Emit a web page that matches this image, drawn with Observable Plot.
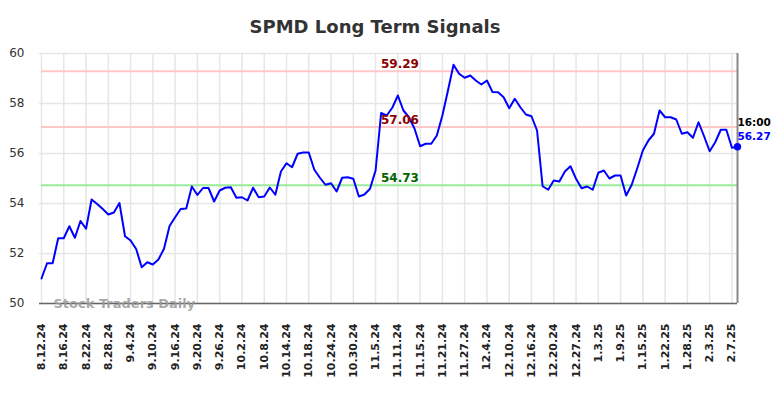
<!DOCTYPE html>
<html><head><meta charset="utf-8">
<script src="https://cdn.jsdelivr.net/npm/d3@7"></script>
<script src="https://cdn.jsdelivr.net/npm/@observablehq/plot@0.6"></script>
<style>html,body{margin:0;padding:0;background:#fff;} svg{display:block;}</style>
</head><body><div id="chart"></div>
<script>
const title = "SPMD Long Term Signals";
const tickLabels = ["8.12.24","8.16.24","8.22.24","8.28.24","9.4.24","9.10.24","9.16.24","9.20.24","9.26.24","10.2.24","10.8.24","10.14.24","10.18.24","10.24.24","10.30.24","11.5.24","11.11.24","11.15.24","11.21.24","11.27.24","12.4.24","12.10.24","12.16.24","12.20.24","12.27.24","1.3.25","1.9.25","1.15.25","1.22.25","1.28.25","2.3.25","2.7.25"];
const closes = [51.00,51.61,51.61,52.61,52.61,53.09,52.63,53.30,52.99,54.16,
53.98,53.78,53.56,53.64,54.02,52.69,52.52,52.18,51.45,51.65,
51.56,51.76,52.19,53.10,53.45,53.78,53.80,54.68,54.34,54.62,
54.62,54.08,54.52,54.63,54.65,54.23,54.25,54.12,54.63,54.25,
54.28,54.64,54.35,55.28,55.61,55.45,55.99,56.04,56.04,55.35,
55.03,54.75,54.81,54.48,55.03,55.05,54.99,54.28,54.36,54.59,
55.32,57.62,57.52,57.83,58.32,57.72,57.45,56.99,56.29,56.39,
56.39,56.72,57.52,58.52,59.55,59.19,59.03,59.12,58.92,58.76,
58.92,58.46,58.45,58.25,57.81,58.19,57.85,57.56,57.49,56.92,
54.69,54.55,54.92,54.88,55.28,55.49,54.99,54.61,54.68,54.55,
55.23,55.32,55.00,55.12,55.12,54.32,54.75,55.41,56.12,56.52,
56.79,57.72,57.45,57.45,57.36,56.79,56.85,56.63,57.25,56.69,
56.09,56.45,56.95,56.95,56.23,56.27];
const resistanceLevels = [59.29, 57.06];
const supportLevels = [54.73];
const yTicks = [50, 52, 54, 56, 58, 60];
const lastTime = "16:00";
const watermark = "Stock Traders Daily";

const data = closes.map((v, i) => ({i, v}));
const last = data[data.length - 1];
const tickIdx = tickLabels.map((_, k) => k * 4);
const font = "'DejaVu Sans', sans-serif";

const chart = Plot.plot({
  width: 784, height: 398,
  marginLeft: 41, marginRight: 47, marginTop: 53, marginBottom: 95,
  style: {fontFamily: font, background: "#fff", overflow: "visible"},
  x: {domain: [0, closes.length - 1], label: null},
  y: {domain: [50, 60], label: null},
  marks: [
    Plot.gridY(yTicks, {stroke: "#e6e6e6", strokeOpacity: 1, strokeWidth: 1.5, insetLeft: -2}),
    Plot.gridX(tickIdx, {stroke: "#e6e6e6", strokeOpacity: 1, strokeWidth: 1.5}),
    Plot.ruleY(resistanceLevels, {stroke: "#ffc8c8", strokeWidth: 2}),
    Plot.ruleY(supportLevels, {stroke: "#98ec98", strokeWidth: 2}),
    Plot.axisY(yTicks, {label: null, tickSize: 0, tickPadding: 17, fontSize: 12, fill: "#333"}),
    Plot.axisX(tickIdx, {label: null, tickSize: 0, tickPadding: 20, tickRotate: -90, tickFormat: i => tickLabels[i / 4], fontSize: 11, fontWeight: "bold", fill: "#222"}),
    Plot.ruleY([50], {stroke: "#666", strokeWidth: 1.5, insetLeft: -2}),
    Plot.text([watermark], {frameAnchor: "bottom-left", dx: 12, dy: 4, textAnchor: "start", lineAnchor: "bottom", fontSize: 13, fontWeight: "bold", fill: "#999", fillOpacity: 0.85}),
    Plot.line(data, {x: "i", y: "v", stroke: "#0000ff", strokeWidth: 2}),
    Plot.ruleX([closes.length - 1], {stroke: "#888", strokeWidth: 2}),
    Plot.dot([last], {x: "i", y: "v", r: 3.7, fill: "#0000ff", stroke: "none"}),
    Plot.text(resistanceLevels, {y: d => d, text: d => d.toFixed(2), frameAnchor: "middle", dx: 10.5, dy: -3, lineAnchor: "bottom", fontSize: 12, fontWeight: "bold", fill: "#8b0000"}),
    Plot.text(supportLevels, {y: d => d, text: d => d.toFixed(2), frameAnchor: "middle", dx: 10.5, dy: -3, lineAnchor: "bottom", fontSize: 12, fontWeight: "bold", fill: "#006400"}),
    Plot.text([last], {x: "i", y: "v", text: () => lastTime, textAnchor: "start", dy: -20.75, lineAnchor: "bottom", fontSize: 10.5, fontWeight: "bold", fill: "#000"}),
    Plot.text([last], {x: "i", y: "v", text: d => d.v.toFixed(2), textAnchor: "start", dy: -6.75, lineAnchor: "bottom", fontSize: 10.5, fontWeight: "bold", fill: "#0000ff"}),
    Plot.text([title], {frameAnchor: "top", dx: -14.5, dy: -21, lineAnchor: "bottom", fontSize: 18, fontWeight: "bold", fill: "#333"})
  ]
});
document.getElementById("chart").appendChild(chart);
</script>
</body></html>
